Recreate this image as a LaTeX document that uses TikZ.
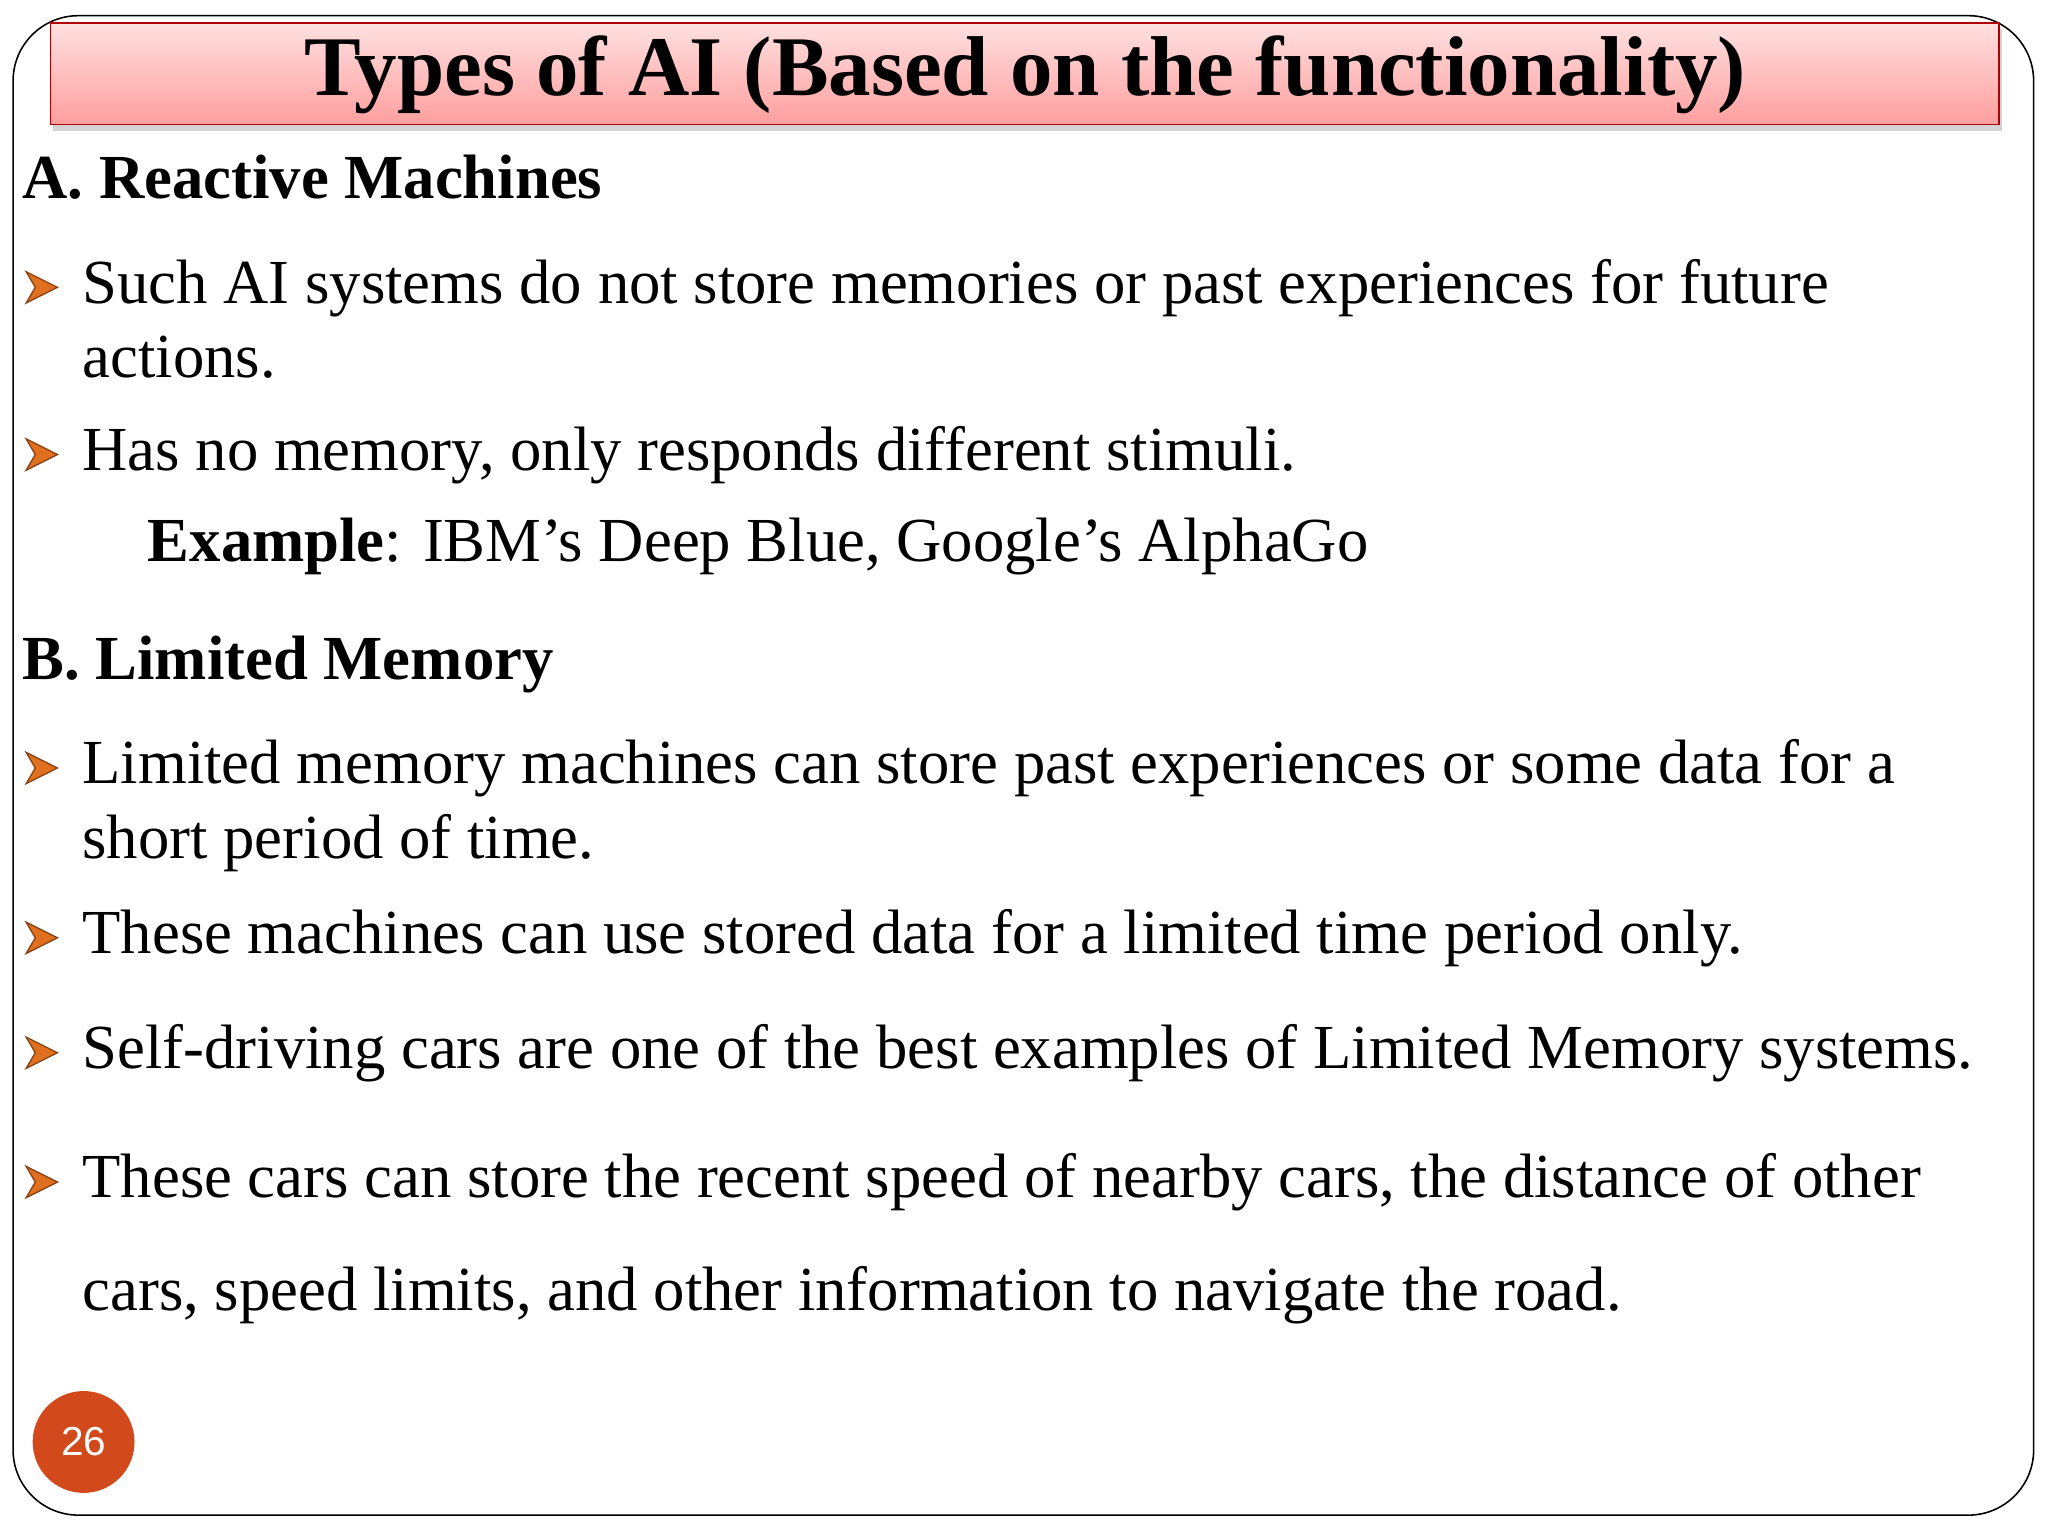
\documentclass[tikz,border=0pt]{standalone}
\usepackage{fontspec}
\setmainfont{Liberation Serif}
\setsansfont{Liberation Sans}
\usetikzlibrary{shadows}
\definecolor{pg}{HTML}{D24A1C}
\definecolor{bul}{HTML}{E07020}
\newcommand{\apos}{\char"27\relax}
\tikzset{
  txt/.style={anchor=base west,inner sep=0pt,font=\fontsize{48}{52}\selectfont},
  head/.style={txt,font=\fontsize{48}{52}\selectfont\bfseries},
  bullet/.pic={\filldraw[fill=bul,draw=bul!60!black,line width=1pt]
    (-12,-24)--(12,-12)--(-12,0)--(-5,-12)--cycle;}
}
\begin{document}
\begin{tikzpicture}[x=1pt,y=-1pt]
\useasboundingbox (0,0) rectangle (1568,1176);
\draw[line width=1.2pt,rounded corners=50pt] (10,12) rectangle (1557,1160);
\node[draw=red!70!black,line width=1pt,top color=red!12,bottom color=red!38,
  drop shadow={shadow xshift=2pt,shadow yshift=-5pt,opacity=0.35},
  minimum width=1492pt,minimum height=78pt,anchor=north west,inner sep=0pt] (tb) at (38,17) {};
\node[anchor=base,inner sep=0pt,font=\fontsize{65}{70}\selectfont\bfseries] (title) at (785,73) {Types of AI (Based on the functionality)};
\node[head] (ha) at (17,152) {A. Reactive Machines};
\pic at (32,232) {bullet};
\node[txt] (a1) at (63,232) {Such AI systems do not store memories or past experiences for future};
\node[txt] (a1b) at (63,289) {actions.};
\pic at (32,360) {bullet};
\node[txt] (a2) at (63,360) {Has no memory, only responds different stimuli.};
\node[txt] (ex) at (113,430) {\textbf{Example}: IBM\apos s Deep Blue, Google\apos s AlphaGo};
\node[head] (hb) at (17,520) {B. Limited Memory};
\pic at (32,600) {bullet};
\node[txt] (b1) at (63,600) {Limited memory machines can store past experiences or some data for a};
\node[txt] (b1b) at (63,657) {short period of time.};
\pic at (32,730) {bullet};
\node[txt] (b2) at (63,730) {These machines can use stored data for a limited time period only.};
\pic at (32,818) {bullet};
\node[txt] (b3) at (63,818) {Self-driving cars are one of the best examples of Limited Memory systems.};
\pic at (32,917) {bullet};
\node[txt] (b4) at (63,917) {These cars can store the recent speed of nearby cars, the distance of other};
\node[txt] (b4b) at (63,1003) {cars, speed limits, and other information to navigate the road.};
\node[circle,fill=pg,minimum size=78pt,inner sep=0pt,text=white,font=\sffamily\fontsize{31}{33}\selectfont] (pn) at (64,1104) {26};
\end{tikzpicture}
\end{document}
